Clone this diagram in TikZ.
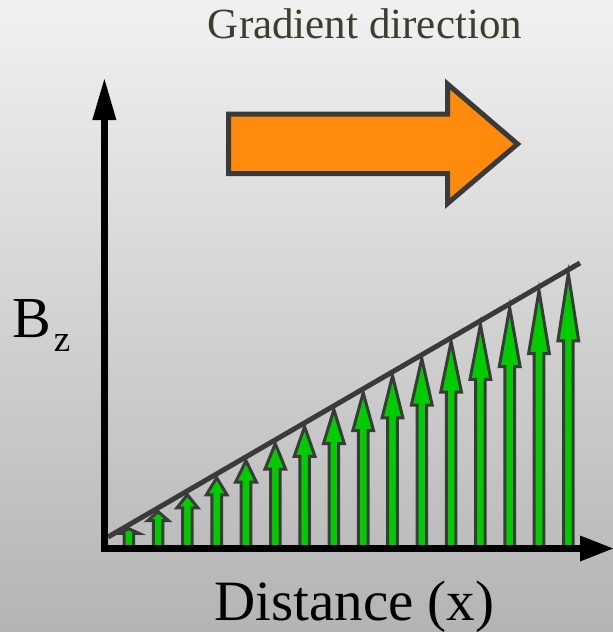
\documentclass[tikz,border=0pt]{standalone}
\usepackage{fontspec}
\setmainfont{Liberation Serif}
\definecolor{bgtop}{RGB}{241,241,241}
\definecolor{bgbot}{RGB}{180,180,180}
\definecolor{edge}{RGB}{58,58,58}
\definecolor{garrow}{RGB}{0,204,0}
\definecolor{oarrow}{RGB}{255,138,12}
\definecolor{titletext}{RGB}{62,62,46}
\tikzset{
  greenarrow/.style={draw=edge, fill=garrow, line width=3pt, line join=miter},
  bigarrow/.style={draw=edge, fill=oarrow, line width=5pt, line join=miter},
  axisline/.style={draw=black, line width=6.5pt},
  axishead/.style={fill=black},
  slopeline/.style={draw=edge, line width=5pt},
  label/.style={inner sep=0pt, text=black}
}
\begin{document}
\begin{tikzpicture}[x=1pt,y=-1pt]
\useasboundingbox (0,0) rectangle (613,632);
\shade[top color=bgtop, bottom color=bgbot] (0,0) rectangle (613,632);
% title
\node[label, text=titletext, anchor=base] (title) at (365,38) {\fontsize{43}{45}\selectfont Gradient direction};
% orange arrow
\path[bigarrow] (228.5,114) -- (447.5,114) -- (447.5,84) -- (517.5,144) -- (447.5,203.5) -- (447.5,173.5) -- (228.5,173.5) -- cycle;
% green arrows
\foreach \i in {0,...,15}{
  \pgfmathsetmacro{\xx}{128.8+29.3*\i}
  \pgfmathsetmacro{\ty}{537-0.5805*(\xx-108)+3.8}
  \pgfmathsetmacro{\by}{\ty+0.245*(548-\ty)}
  \path[greenarrow] (\xx-4.8,548) -- (\xx-4.8,\by) -- (\xx-10.4,\by) -- (\xx,\ty) -- (\xx+10.4,\by) -- (\xx+4.8,\by) -- (\xx+4.8,548) -- cycle;
}
% slope line
\coordinate (s0) at (108,537);
\coordinate (s1) at (580,263);
\draw[slopeline] (s0) -- (s1);
% axes
\coordinate (yend) at (104.5,118);
\coordinate (xend) at (582,548.5);
\draw[axisline] (104.5,551.75) -- (yend);
\draw[axisline] (101.25,548.5) -- (xend);
\fill[axishead] (92.3,120) -- (104.4,79) -- (116.4,120) -- cycle;
\fill[axishead] (580,535.5) -- (613,548.5) -- (580,561.5) -- cycle;
% labels
\node[label, anchor=base west] (bz) at (12,337) {\fontsize{58}{60}\selectfont B\hspace{3pt}\raisebox{-14pt}{\fontsize{37}{38}\selectfont z}};
\node[label, anchor=base west] (dist) at (214,620) {\fontsize{57}{60}\selectfont Distance (x)};
\end{tikzpicture}
\end{document}
